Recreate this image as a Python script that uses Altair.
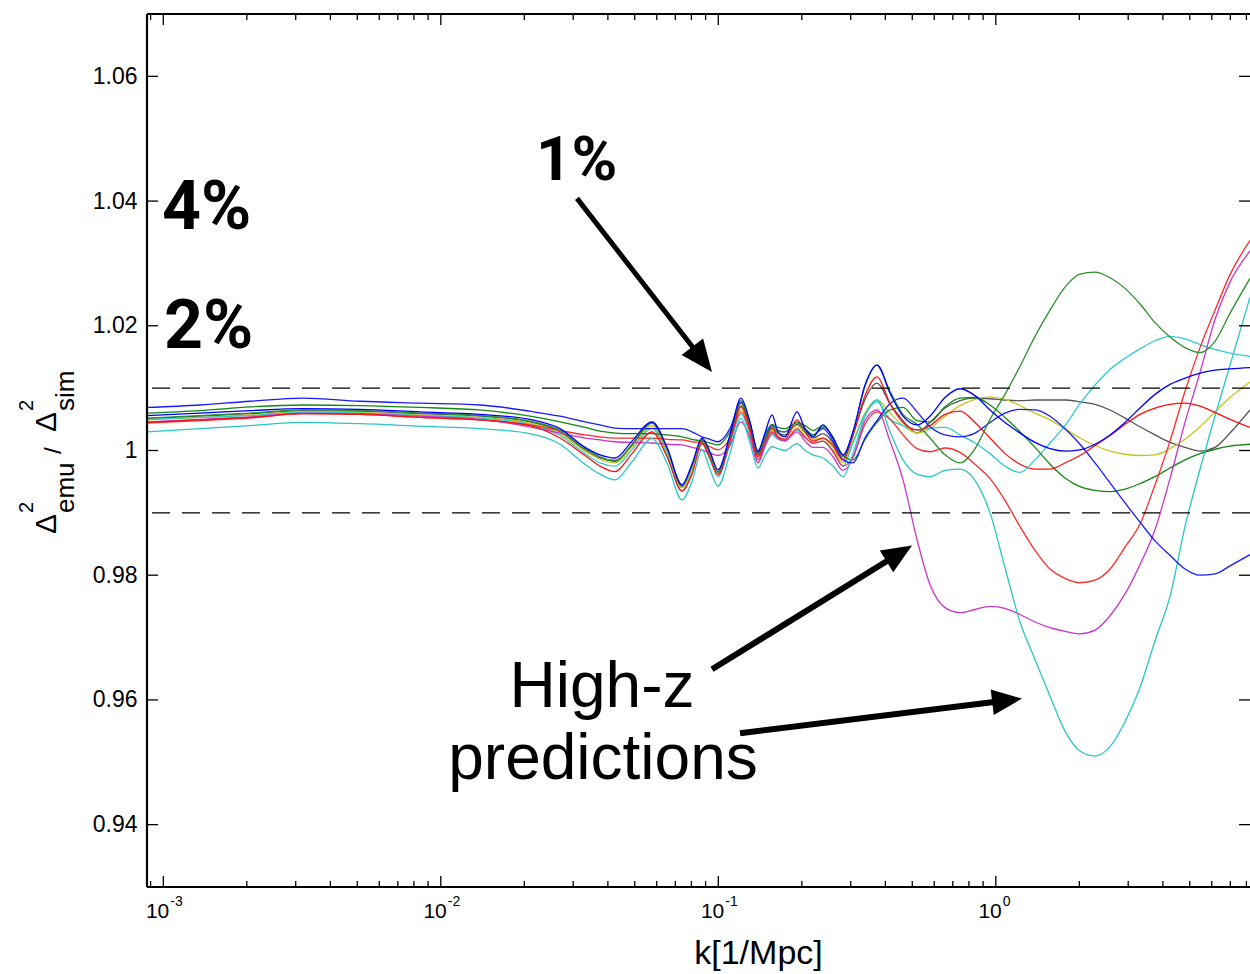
import math
import altair as alt
import pandas as pd

# ---------------- data ----------------
K = [8.735e-4, 1.356e-3, 2.054e-3, 3.187e-3, 5.114e-3, 8.415e-3, 0.013845, 0.020966, 0.02689, 0.033086,
     0.03747, 0.042437, 0.04887, 0.05768, 0.06534, 0.07398, 0.08038, 0.08735, 0.09335, 0.09975,
     0.11019, 0.12071, 0.13011, 0.13902, 0.14733, 0.15613, 0.16410, 0.17391, 0.19212, 0.20535,
     0.21947, 0.23846, 0.25906, 0.28146, 0.30580, 0.33780, 0.37317, 0.41568, 0.46302, 0.52018,
     0.57919, 0.65608, 0.74298, 0.84150, 0.95305, 1.0793, 1.2224, 1.3845, 1.5680, 1.7758,
     2.0112, 2.2778, 2.5797, 2.9218, 3.3086, 3.7472, 4.2437, 4.8062, 5.4434, 6.1648,
     6.9822, 8.2416]

BLUE_A = [1.0056, 1.0060, 1.0064, 1.0067, 1.0066, 1.0062, 1.0058, 1.0050, 1.0035, 1.0005,
          0.9993, 0.9988, 1.0015, 1.0046, 1.0005, 0.9945, 0.9978, 1.0020, 0.9998, 0.9969,
          1.0025, 1.0084, 1.0045, 0.9998, 1.0028, 1.0057, 1.0030, 1.0022, 1.0062, 1.0035,
          1.0022, 1.0041, 1.0020, 0.9993, 1.0030, 1.0105, 1.0137, 1.0092, 1.0055, 1.0041,
          1.0055, 1.0085, 1.0099, 1.0088, 1.0065, 1.0045, 1.0028, 1.0013, 1.0003, 0.9999,
          1.0001, 1.0010, 1.0025, 1.0045, 1.0068, 1.0090, 1.0106, 1.0116, 1.0124, 1.0129,
          1.0131, 1.0133]
GREEN_A = [1.0052, 1.0056, 1.0060, 1.0065, 1.0064, 1.0060, 1.0056, 1.0047, 1.0032, 1.0003,
           0.9990, 0.9982, 1.0010, 1.0045, 1.0003, 0.9943, 0.9975, 1.0018, 0.9995, 0.9966,
           1.0022, 1.0080, 1.0042, 0.9995, 1.0018, 1.0038, 1.0032, 1.0030, 1.0045, 1.0032,
           1.0025, 1.0037, 1.0022, 0.9990, 1.0030, 1.0103, 1.0137, 1.0095, 1.0058, 1.0042,
           1.0020, 0.9993, 0.9980, 1.0003, 1.0050, 1.0090, 1.0135, 1.0183, 1.0225, 1.0262,
           1.0283, 1.0286, 1.0277, 1.0260, 1.0235, 1.0205, 1.0182, 1.0165, 1.0157, 1.0175,
           1.0220, 1.0276]
GRAY = [1.0051, 1.0055, 1.0059, 1.0064, 1.0063, 1.0059, 1.0055, 1.0046, 1.0030, 1.0001,
        0.9988, 0.9984, 1.0008, 1.0044, 1.0002, 0.9942, 0.9973, 1.0016, 0.9993, 0.9965,
        1.0022, 1.0076, 1.0040, 0.9993, 1.0015, 1.0035, 1.0028, 1.0025, 1.0042, 1.0030,
        1.0020, 1.0027, 1.0012, 0.9985, 1.0025, 1.0082, 1.0108, 1.0075, 1.0048, 1.0028,
        1.0045, 1.0068, 1.0080, 1.0084, 1.0083, 1.0081, 1.0080, 1.0081, 1.0081, 1.0081,
        1.0078, 1.0074, 1.0065, 1.0052, 1.0038, 1.0025, 1.0013, 1.0005, 0.9999, 1.0005,
        1.0028, 1.0065]
YELLOW = [1.0049, 1.0053, 1.0057, 1.0062, 1.0061, 1.0057, 1.0053, 1.0044, 1.0027, 0.9999,
          0.9986, 0.9980, 1.0005, 1.0040, 0.9998, 0.9940, 0.9970, 1.0014, 0.9990, 0.9962,
          1.0015, 1.0066, 1.0032, 0.9990, 1.0012, 1.0032, 1.0026, 1.0023, 1.0040, 1.0028,
          1.0018, 1.0020, 1.0005, 0.9980, 1.0015, 1.0060, 1.0081, 1.0060, 1.0040, 1.0028,
          1.0035, 1.0055, 1.0072, 1.0082, 1.0086, 1.0082, 1.0072, 1.0060, 1.0049, 1.0035,
          1.0020, 1.0008, 0.9999, 0.9994, 0.9992, 0.9993, 1.0003, 1.0018, 1.0038, 1.0062,
          1.0085, 1.0110]
RED_A = [1.0045, 1.0049, 1.0053, 1.0059, 1.0058, 1.0053, 1.0049, 1.0040, 1.0020, 0.9992,
         0.9975, 0.9966, 0.9995, 1.0030, 0.9990, 0.9935, 0.9962, 1.0012, 0.9988, 0.9961,
         1.0015, 1.0070, 1.0035, 0.9990, 1.0015, 1.0036, 1.0022, 1.0018, 1.0049, 1.0030,
         1.0015, 1.0020, 1.0008, 0.9985, 1.0025, 1.0088, 1.0118, 1.0075, 1.0045, 1.0033,
         1.0040, 1.0058, 1.0063, 1.0045, 1.0020, 0.9995, 0.9978, 0.9970, 0.9970, 0.9980,
         0.9992, 1.0008, 1.0024, 1.0042, 1.0058, 1.0068, 1.0074, 1.0076, 1.0071, 1.0061,
         1.0050, 1.0037]
CYAN_B = [1.0050, 1.0053, 1.0056, 1.0061, 1.0060, 1.0056, 1.0052, 1.0042, 1.0024, 0.9995,
          0.9980, 0.9975, 1.0001, 1.0036, 0.9994, 0.9935, 0.9965, 1.0010, 0.9985, 0.9958,
          1.0010, 1.0058, 1.0025, 0.9980, 1.0005, 1.0025, 1.0018, 1.0016, 1.0033, 1.0020,
          1.0012, 1.0015, 1.0000, 0.9975, 1.0012, 1.0058, 1.0078, 1.0050, 1.0040, 1.0033,
          1.0036, 1.0037, 1.0025, 1.0012, 0.9995, 0.9975, 0.9965, 0.9985, 1.0012, 1.0040,
          1.0075, 1.0105, 1.0130, 1.0148, 1.0163, 1.0176, 1.0183, 1.0179, 1.0170, 1.0162,
          1.0156, 1.0151]
CYAN_A = [1.0030, 1.0035, 1.0040, 1.0045, 1.0043, 1.0039, 1.0035, 1.0027, 1.0010, 0.9978,
          0.9962, 0.9953, 0.9982, 1.0019, 0.9980, 0.9921, 0.9950, 1.0001, 0.9970, 0.9943,
          0.9995, 1.0052, 1.0012, 0.9972, 0.9992, 1.0006, 1.0003, 1.0000, 1.0011, 1.0000,
          0.9993, 0.9988, 0.9975, 0.9958, 0.9995, 1.0055, 1.0081, 1.0030, 0.9985, 0.9962,
          0.9958, 0.9968, 0.9970, 0.9952, 0.9900, 0.9812, 0.9725, 0.9665, 0.9606, 0.9550,
          0.9518, 0.9510, 0.9525, 0.9565, 0.9620, 0.9695, 0.9766, 0.9878, 0.9970, 1.0055,
          1.0137, 1.0246]
BLUE_B = [1.0069, 1.0073, 1.0079, 1.0084, 1.0079, 1.0076, 1.0073, 1.0063, 1.0055, 1.0046,
          1.0041, 1.0036, 1.0035, 1.0035, 1.0035, 1.0035, 1.0030, 1.0022, 1.0018, 1.0014,
          1.0035, 1.0078, 1.0045, 0.9995, 1.0020, 1.0040, 1.0032, 1.0030, 1.0045, 1.0035,
          1.0025, 1.0035, 1.0015, 0.9985, 0.9980, 1.0020, 1.0048, 1.0075, 1.0084, 1.0062,
          1.0038, 1.0025, 1.0022, 1.0028, 1.0045, 1.0060, 1.0066, 1.0065, 1.0055, 1.0035,
          1.0010, 0.9980, 0.9948, 0.9916, 0.9885, 0.9855, 0.9832, 0.9810, 0.9800, 0.9802,
          0.9815, 0.9833]
GREEN_B = [1.0060, 1.0064, 1.0070, 1.0073, 1.0072, 1.0069, 1.0065, 1.0055, 1.0046, 1.0037,
           1.0031, 1.0028, 1.0027, 1.0027, 1.0025, 1.0022, 1.0018, 1.0015, 1.0012, 1.0009,
           1.0030, 1.0072, 1.0042, 1.0000, 1.0025, 1.0042, 1.0037, 1.0035, 1.0045, 1.0040,
           1.0032, 1.0040, 1.0020, 0.9992, 0.9985, 1.0018, 1.0045, 1.0065, 1.0069, 1.0048,
           1.0046, 1.0070, 1.0084, 1.0085, 1.0073, 1.0053, 1.0030, 1.0005, 0.9978, 0.9956,
           0.9942, 0.9936, 0.9934, 0.9938, 0.9947, 0.9958, 0.9972, 0.9985, 0.9995, 1.0002,
           1.0007, 1.0010]
RED_B = [1.0044, 1.0048, 1.0052, 1.0059, 1.0058, 1.0053, 1.0049, 1.0041, 1.0032, 1.0025,
         1.0022, 1.0020, 1.0020, 1.0020, 1.0018, 1.0017, 1.0014, 1.0012, 1.0006, 1.0001,
         1.0020, 1.0062, 1.0030, 0.9985, 1.0010, 1.0030, 1.0020, 1.0015, 1.0035, 1.0022,
         1.0012, 1.0015, 0.9998, 0.9975, 0.9990, 1.0042, 1.0062, 1.0050, 1.0025, 1.0003,
         0.9998, 1.0004, 0.9997, 0.9978, 0.9955, 0.9920, 0.9878, 0.9840, 0.9810, 0.9795,
         0.9788, 0.9792, 0.9810, 0.9845, 0.9882, 0.9945, 1.0015, 1.0095, 1.0165, 1.0225,
         1.0282, 1.0337]
MAGENTA = [1.0046, 1.0050, 1.0054, 1.0060, 1.0059, 1.0055, 1.0050, 1.0038, 1.0028, 1.0020,
           1.0017, 1.0014, 1.0013, 1.0012, 1.0010, 1.0009, 1.0005, 1.0001, 0.9996, 0.9992,
           1.0008, 1.0046, 1.0020, 0.9980, 1.0008, 1.0028, 1.0020, 1.0016, 1.0030, 1.0015,
           1.0005, 1.0005, 0.9990, 0.9968, 0.9988, 1.0048, 1.0065, 1.0015, 0.9953, 0.9857,
           0.9785, 0.9748, 0.9740, 0.9745, 0.9750, 0.9747, 0.9737, 0.9725, 0.9716, 0.9710,
           0.9706, 0.9712, 0.9735, 0.9770, 0.9817, 0.9873, 0.9955, 1.0045, 1.0125, 1.0210,
           1.0270, 1.0320]

SERIES = [("gray", GRAY), ("yellow", YELLOW), ("cyanB", CYAN_B), ("greenB", GREEN_B),
          ("redB", RED_B), ("magenta", MAGENTA), ("cyanA", CYAN_A), ("blueB", BLUE_B),
          ("redA", RED_A), ("greenA", GREEN_A), ("blueA", BLUE_A)]
COLORS = {"blueA": "#0000ff", "blueB": "#1a1aff", "greenA": "#2e8f2e", "greenB": "#138613",
          "gray": "#555555", "yellow": "#c4c41e", "redA": "#ff1010", "redB": "#ff2a2a",
          "cyanA": "#28c6c6", "cyanB": "#30cccc", "magenta": "#c836c8"}

Y_TICKS = [0.94, 0.96, 0.98, 1.0, 1.02, 1.04, 1.06]
X_LABEL_K = [0.001, 0.01, 0.1, 1.0]
X_LABEL_EXP = ["-3", "-2", "-1", "0"]
LIMITS = [1.01, 0.99]

PCT_TEXT = ["4%", "2%", "1%"]
PCT_K = [9.893e-4, 1.0058e-3, 0.022035]
PCT_R = [1.03547, 1.01643, 1.04331]
PCT_FS = [68, 68, 62]

HZ_TEXT = ["High-z", "predictions"]
HZ_K = [0.03809, 0.03841]
HZ_R = [0.95883, 0.94731]

ARROW_TAIL_K = [0.03096, 0.09490, 0.11977]
ARROW_TAIL_R = [1.04043, 0.96491, 0.95467]
ARROW_TIP_K = [0.09490, 0.4990, 1.2428]
ARROW_TIP_R = [1.01259, 0.98475, 0.96021]
ARROW_W = [5, 6, 6]
ARROW_HEAD = [32, 30, 30]

# ---------------- layout ----------------
W, H = 1103, 873
KMIN, KMAX = K[0], K[-1]
YMIN, YMAX = 0.93, 1.07
LK0, LK1 = math.log10(KMIN), math.log10(KMAX)
PX_DEC = W / (LK1 - LK0)
PX_UNIT = H / (YMAX - YMIN)


def to_px(k, v):
    return (math.log10(k) - LK0) * PX_DEC, (YMAX - v) * PX_UNIT


def from_px(x, y):
    return 10 ** (LK0 + x / PX_DEC), YMAX - y / PX_UNIT


FONT = "Liberation Sans"
xs = alt.Scale(type="log", domain=[KMIN, KMAX], nice=False)
ys = alt.Scale(domain=[YMIN, YMAX], nice=False, zero=False)
X_AXIS = alt.Axis(labels=False, ticks=False, domain=False, grid=False, title="k[1/Mpc]",
                  titleFont=FONT, titleFontSize=34, titleFontWeight="normal", titleColor="black",
                  titleX=611, titleY=76, titleBaseline="alphabetic", titleAlign="center")
Y_AXIS = alt.Axis(values=Y_TICKS, labelExpr="datum.value == 1 ? '1' : format(datum.value, '.2f')",
                  labelFont=FONT, labelFontSize=23, labelColor="black", labelPadding=10,
                  ticks=False, tickSize=0, domain=False, grid=False, title=None)


def X(field="k"):
    return alt.X(f"{field}:Q", scale=xs, axis=X_AXIS)


def Y(field="r"):
    return alt.Y(f"{field}:Q", scale=ys, axis=Y_AXIS)


rows = []
for name, vals in SERIES:
    for k, v in zip(K, vals):
        rows.append({"k": k, "r": v, "s": name})
df = pd.DataFrame(rows)
order = [n for n, _ in SERIES]

lines = alt.Chart(df).mark_line(strokeWidth=1.3, interpolate="monotone", clip=True).encode(
    x=X(), y=Y(),
    color=alt.Color("s:N", scale=alt.Scale(domain=order, range=[COLORS[n] for n in order]), legend=None),
    order=alt.Order("k:Q"),
)

dash = alt.Chart(pd.DataFrame({"r": LIMITS})).mark_rule(
    color="black", strokeWidth=1.4, strokeDash=[18, 12]).encode(y=Y())

# frame (left, bottom, top)
frame_v = alt.Chart(pd.DataFrame({"k": [KMIN]})).mark_rule(color="black", strokeWidth=2.2).encode(x=X())
frame_h = alt.Chart(pd.DataFrame({"r": [YMIN, YMAX]})).mark_rule(color="black", strokeWidth=2.0).encode(y=Y())

# inward ticks
xt = []
for e in range(-4, 2):
    for m in range(1, 10):
        k = m * 10.0 ** e
        if KMIN <= k <= KMAX:
            L = 11 if m == 1 else 6
            dv = L / PX_UNIT
            xt.append({"k": k, "r": YMIN, "r2": YMIN + dv})
            xt.append({"k": k, "r": YMAX, "r2": YMAX - dv})
xticks = alt.Chart(pd.DataFrame(xt)).mark_rule(color="black", strokeWidth=1.3).encode(
    x=X(), y=Y(), y2="r2:Q")
fac = 10 ** (11 / PX_DEC)
yt = []
for v in Y_TICKS:
    yt.append({"k": KMIN, "k2": KMIN * fac, "r": v})
    yt.append({"k": KMAX / fac, "k2": KMAX, "r": v})
yticks = alt.Chart(pd.DataFrame(yt)).mark_rule(color="black", strokeWidth=1.3).encode(
    x=X(), x2="k2:Q", y=Y())

# x tick labels 10^n
lab = pd.DataFrame({"k": X_LABEL_K, "r": [YMIN] * 4, "e": X_LABEL_EXP})
base10 = alt.Chart(lab).mark_text(text="10", align="right", baseline="alphabetic", dx=6, dy=31,
                                  fontSize=21, font=FONT, color="black").encode(x=X(), y=Y())
expo = alt.Chart(lab).mark_text(align="left", baseline="alphabetic", dx=7, dy=19,
                                fontSize=14, font=FONT, color="black").encode(x=X(), y=Y(), text="e:N")

# annotations
pct = alt.Chart(pd.DataFrame({"k": PCT_K, "r": PCT_R, "t": PCT_TEXT, "fs": PCT_FS})).mark_text(
    align="left", baseline="alphabetic", font="Roboto", fontWeight="bold", color="black").encode(
    x=X(), y=Y(), text="t:N", size=alt.Size("fs:Q", scale=None))
highz = alt.Chart(pd.DataFrame({"k": HZ_K, "r": HZ_R, "t": HZ_TEXT})).mark_text(
    align="center", baseline="alphabetic", font=FONT, fontSize=64, color="black").encode(
    x=X(), y=Y(), text="t:N")

layers = [lines, dash, frame_v, frame_h, xticks, yticks, base10, expo, pct, highz]

# arrows
HEAD_PATH = "M0,0 L-0.85,2 L0.85,2 Z"
for i in range(len(ARROW_TAIL_K)):
    tx, ty = to_px(ARROW_TAIL_K[i], ARROW_TAIL_R[i])
    hx, hy = to_px(ARROW_TIP_K[i], ARROW_TIP_R[i])
    L = math.hypot(hx - tx, hy - ty)
    ux, uy = (hx - tx) / L, (hy - ty) / L
    ex, ey = hx - ux * ARROW_HEAD[i] * 0.6, hy - uy * ARROW_HEAD[i] * 0.6
    ek, er = from_px(ex, ey)
    shaft_df = pd.DataFrame({"k": [ARROW_TAIL_K[i], ek], "r": [ARROW_TAIL_R[i], er], "o": [0, 1]})
    layers.append(alt.Chart(shaft_df).mark_line(color="black", strokeWidth=ARROW_W[i], strokeCap="butt").encode(
        x=X(), y=Y(), order="o:Q"))
    bx, by = -ux, -uy
    ang = math.degrees(math.atan2(-bx, by)) % 360
    head_df = pd.DataFrame({"k": [ARROW_TIP_K[i]], "r": [ARROW_TIP_R[i]]})
    layers.append(alt.Chart(head_df).mark_point(shape=HEAD_PATH, filled=True, color="black", opacity=1,
                                                strokeWidth=0, size=ARROW_HEAD[i] ** 2, angle=ang).encode(
        x=X(), y=Y()))

# y axis title pieces: Delta^2_emu / Delta^2_sim (rotated)
TITLE_PIECES = [("Δ", 30, -91, 520), ("2", 20, -114, 499), ("emu", 26, -73, 499),
                ("/", 24, -86, 440), ("Δ", 30, -91, 418), ("2", 20, -114, 397), ("sim", 26, -73, 397)]
for t, fs, px, py in TITLE_PIECES:
    layers.append(alt.Chart(pd.DataFrame({"t": [t]})).mark_text(
        text=t, fontSize=fs, font=FONT, angle=270, align="left", baseline="alphabetic", color="black").encode(
        x=alt.value(px), y=alt.value(py)))

chart = alt.layer(*layers).properties(
    width=W, height=H,
    autosize=alt.AutoSizeParams(type="none"),
    padding={"left": 147, "top": 14, "right": 0, "bottom": 87},
    background="white",
).configure_view(stroke=None)

chart.save("out.html", embed_options={"renderer": "svg", "actions": False})
